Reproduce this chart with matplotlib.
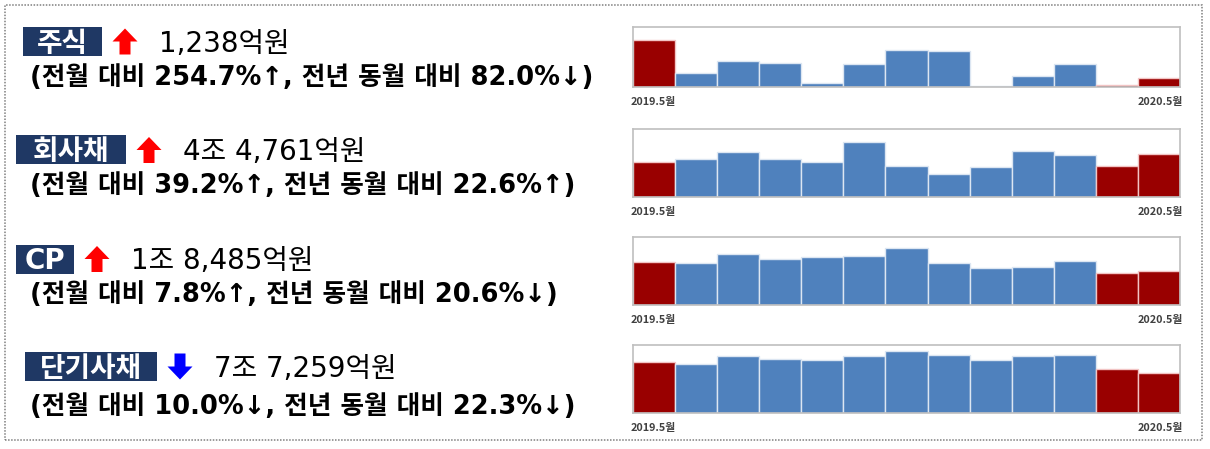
import numpy as np
import matplotlib as mpl, matplotlib.pyplot as plt
from matplotlib.patches import Rectangle, Polygon

plt.rcParams["font.family"] = ["Noto Sans CJK KR", "DejaVu Sans"]
LATIN_FIRST = ["DejaVu Sans", "Noto Sans CJK KR"]

# ====== Data ======
categories = ["주식", "회사채", "CP", "단기사채"]
amount_text = ["1,238억원", "4조 4,761억원", "1조 8,485억원", "7조 7,259억원"]
trend = ["up", "up", "up", "down"]
mom_pct = [254.7, 39.2, 7.8, 10.0]
mom_dir = ["up", "up", "up", "down"]
yoy_pct = [82.0, 22.6, 20.6, 22.3]
yoy_dir = ["down", "up", "down", "down"]

months = ["2019.5", "2019.6", "2019.7", "2019.8", "2019.9", "2019.10", "2019.11",
          "2019.12", "2020.1", "2020.2", "2020.3", "2020.4", "2020.5"]
stock = [6878, 2100, 3760, 3410, 520, 3320, 5420, 5160, 175, 1570, 3320, 349, 1238]
corp = [36510, 40140, 46500, 39780, 36970, 57400, 32060, 24330, 31330, 47580, 44040, 32160, 44761]
cp = [23281, 22400, 27180, 24650, 25770, 26130, 30740, 22400, 19900, 20260, 23810, 17148, 18485]
stb = [99432, 96170, 111200, 105960, 103400, 111860, 121660, 113200, 104620, 110520, 112540, 85843, 77259]
series = [stock, corp, cp, stb]
highlight = [0, 11, 12]   # 전년 동월, 전월, 당월

# ====== Layout (pixels) ======
W, H = 1210, 449
NAVY = "#1F3864"; RED = "#990000"; BLUE = "#4F81BD"
box_x = [(23, 102), (16, 126), (16, 74), (25, 157)]
row_y = [41.5, 150, 259, 366.5]
line2_y = [75, 183, 292, 404]
chart_y = [(27, 87), (129, 197), (237, 305), (345, 413)]
y_top = [8700, 70900, 36500, 133000]
ax_x0, ax_x1 = 633, 1180

def fx(x): return x / W
def fy(y): return 1 - y / H
def base(yc, size): return fy(yc + 0.37 * size * 100 / 72)   # baseline for a visual centre

fig = plt.figure(figsize=(W / 100, H / 100), dpi=100)

# dotted outer border
fig.patches.append(Rectangle((fx(5), fy(440)), fx(1202) - fx(5), fy(5) - fy(440),
                             transform=fig.transFigure, fill=False, ec="#7f7f7f",
                             lw=1.1, ls=(0, (1, 1))))

arrow_ch = {"up": "↑", "down": "↓"}

def block_arrow(cx, cy, direction, color):
    hw, sw, hl, tot = 12.5, 5.5, 13, 26
    top, bot = cy - tot / 2, cy + tot / 2
    if direction == "up":
        pts = [(cx, top), (cx + hw, top + hl), (cx + sw, top + hl), (cx + sw, bot),
               (cx - sw, bot), (cx - sw, top + hl), (cx - hw, top + hl)]
    else:
        pts = [(cx, bot), (cx + hw, bot - hl), (cx + sw, bot - hl), (cx + sw, top),
               (cx - sw, top), (cx - sw, bot - hl), (cx - hw, bot - hl)]
    fig.patches.append(Polygon([(fx(x), fy(y)) for x, y in pts], closed=True,
                               transform=fig.transFigure, fc=color, ec="none"))

for i, cat in enumerate(categories):
    x0, x1 = box_x[i]; yc = row_y[i]
    fig.patches.append(Rectangle((fx(x0), fy(yc + 14.5)), fx(x1) - fx(x0), fy(yc - 14.5) - fy(yc + 14.5),
                                 transform=fig.transFigure, fc=NAVY, ec="none"))
    fig.text(fx((x0 + x1) / 2), base(yc, 20), cat, color="white", fontsize=20, fontweight="bold",
             family=LATIN_FIRST if cat == "CP" else None, ha="center", va="baseline")
    block_arrow(x1 + 23, yc, trend[i], "#FF0000" if trend[i] == "up" else "#0000FF")
    fig.text(fx(x1 + 57), base(yc, 20), amount_text[i], fontsize=20, family=LATIN_FIRST,
             ha="left", va="baseline", color="black")
    line2 = (f"(전월 대비 {mom_pct[i]:.1f}%{arrow_ch[mom_dir[i]]}, "
             f"전년 동월 대비 {yoy_pct[i]:.1f}%{arrow_ch[yoy_dir[i]]})")
    fig.text(fx(30), base(line2_y[i], 18.5), line2, fontsize=18.5, fontweight="bold",
             family=LATIN_FIRST, ha="left", va="baseline", color="black")

    # mini bar chart
    yt, yb = chart_y[i]
    ax = fig.add_axes([fx(ax_x0), fy(yb), fx(ax_x1) - fx(ax_x0), fy(yt) - fy(yb)])
    cols = [RED if k in highlight else BLUE for k in range(len(months))]
    edges = ["#F2C4C4" if k in highlight else "#DCE6F2" for k in range(len(months))]
    ax.bar(range(len(months)), series[i], width=1.0, color=cols, edgecolor=edges, linewidth=1.0)
    ax.set_xlim(-0.5, len(months) - 0.5); ax.set_ylim(0, y_top[i])
    ax.set_xticks([]); ax.set_yticks([])
    for s in ax.spines.values():
        s.set_color("#BFBFBF"); s.set_linewidth(1.2)
    fig.text(fx(ax_x0 - 2), fy(yb + 15), months[0] + "월", fontsize=7.8, fontweight="bold",
             color="#404040", ha="left", va="center")
    fig.text(fx(ax_x1 + 3), fy(yb + 15), months[-1] + "월", fontsize=7.8, fontweight="bold",
             color="#404040", ha="right", va="center")

fig.savefig("out.png", dpi=100)
